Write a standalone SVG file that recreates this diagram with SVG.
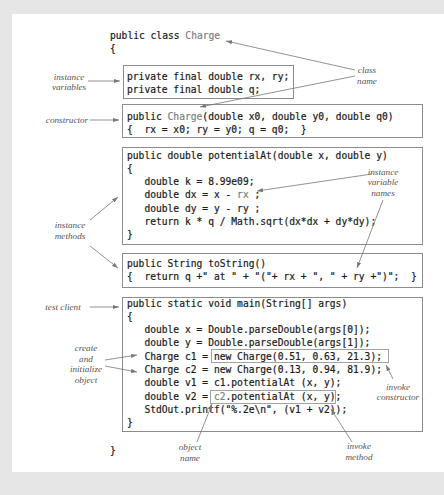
<svg xmlns="http://www.w3.org/2000/svg" width="444" height="495" viewBox="0 0 444 495">
<style>
.code{font-family:"DejaVu Sans Mono","Liberation Mono",monospace;font-size:9.65px;fill:#1a1a1a;stroke:#1a1a1a;stroke-width:0.2px;white-space:pre}
.g{fill:#808080;stroke:#808080}
.lbl{font-family:"Liberation Serif","DejaVu Serif",serif;font-style:italic;font-size:9.2px;fill:#555;text-anchor:middle}
.box{fill:#fff;stroke:#8c8c8c;stroke-width:1}
.ibox{fill:none;stroke:#999;stroke-width:0.9}
.conn{stroke:#777;stroke-width:0.8;fill:none;marker-end:url(#ah)}
</style>
<defs>
<marker id="ah" viewBox="0 0 10 10" refX="10" refY="5" markerWidth="6" markerHeight="6" orient="auto" markerUnits="userSpaceOnUse"><path d="M0,1.5 L10,5 L0,8.5 z" fill="#777"/></marker>
</defs>
<rect x="0" y="0" width="444" height="495" fill="#e6e6e6"/>
<rect x="12" y="14" width="432" height="458" fill="#fff"/>

<g id="class-header" xml:space="preserve">
<text class="code" x="110" y="38.5">public class <tspan class="g">Charge</tspan></text>
<text class="code" x="110" y="52">{</text>
<text class="code" x="110" y="454">}</text>
</g>

<g id="instance-variables" xml:space="preserve">
<rect class="box" x="123.5" y="65.5" width="170" height="33"/>
<text class="code" x="127" y="80">private final double rx, ry;</text>
<text class="code" x="127" y="93.3">private final double q;</text>
</g>

<g id="constructor" xml:space="preserve">
<rect class="box" x="122.5" y="104.5" width="300" height="33"/>
<text class="code" x="127" y="119.5">public <tspan class="g">Charge</tspan>(double x0, double y0, double q0)</text>
<text class="code" x="127" y="132.8">{  rx = x0; ry = y0; q = q0;  }</text>
</g>

<g id="potentialAt" xml:space="preserve">
<rect class="box" x="122.5" y="147.5" width="300" height="97"/>
<text class="code" x="127" y="158.5">public double potentialAt(double x, double y)</text>
<text class="code" x="127" y="171.8">{</text>
<text class="code" x="127" y="185.1">   double k = 8.99e09;</text>
<text class="code" x="127" y="198.4">   double dx = x - <tspan class="g">rx</tspan> ;</text>
<text class="code" x="127" y="211.7">   double dy = y - ry ;</text>
<text class="code" x="127" y="225">   return k * q / Math.sqrt(dx*dx + dy*dy);</text>
<text class="code" x="127" y="238.3">}</text>
</g>

<g id="toString" xml:space="preserve">
<rect class="box" x="122.5" y="253.5" width="300" height="34"/>
<text class="code" x="127" y="266.5">public String toString()</text>
<text class="code" x="127" y="279.8">{  return q +" at " + "("+ rx + ", " + ry +")";  }</text>
</g>

<g id="main" xml:space="preserve">
<rect class="box" x="122.5" y="297.5" width="300" height="134"/>
<rect class="ibox" x="211.5" y="349.5" width="177" height="13"/>
<rect class="ibox" x="210.5" y="390.5" width="125" height="13"/>
<text class="code" x="127" y="306.5">public static void main(String[] args)</text>
<text class="code" x="127" y="319.8">{</text>
<text class="code" x="127" y="333.1">   double x = Double.parseDouble(args[0]);</text>
<text class="code" x="127" y="346.4">   double y = Double.parseDouble(args[1]);</text>
<text class="code" x="127" y="359.7">   Charge c1 = new Charge(0.51, 0.63, 21.3);</text>
<text class="code" x="127" y="373">   Charge c2 = new Charge(0.13, 0.94, 81.9);</text>
<text class="code" x="127" y="386.3">   double v1 = c1.potentialAt (x, y);</text>
<text class="code" x="127" y="399.6">   double v2 = <tspan class="g">c2</tspan>.potentialAt (x, y);</text>
<text class="code" x="127" y="412.9">   StdOut.printf("%.2e\n", (v1 + v2));</text>
<text class="code" x="127" y="426.2">}</text>
</g>

<g id="label-class-name"><text class="lbl" x="367" y="73">class</text><text class="lbl" x="367" y="83.5">name</text></g>
<g id="label-instance-variables"><text class="lbl" x="69" y="79.5">instance</text><text class="lbl" x="69" y="90">variables</text></g>
<g id="label-constructor"><text class="lbl" x="67" y="123">constructor</text></g>
<g id="label-instance-methods"><text class="lbl" x="70" y="228">instance</text><text class="lbl" x="70" y="238.5">methods</text></g>
<g id="label-instance-variable-names"><text class="lbl" x="383" y="174.5">instance</text><text class="lbl" x="383" y="185">variable</text><text class="lbl" x="383" y="195.5">names</text></g>
<g id="label-test-client"><text class="lbl" x="63" y="310">test client</text></g>
<g id="label-create"><text class="lbl" x="86" y="351">create</text><text class="lbl" x="86" y="361.5">and</text><text class="lbl" x="86" y="372">initialize</text><text class="lbl" x="86" y="382.5">object</text></g>
<g id="label-invoke-constructor"><text class="lbl" x="398" y="389.5">invoke</text><text class="lbl" x="398" y="400">constructor</text></g>
<g id="label-object-name"><text class="lbl" x="190" y="450">object</text><text class="lbl" x="190" y="460.5">name</text></g>
<g id="label-invoke-method"><text class="lbl" x="359" y="449">invoke</text><text class="lbl" x="359" y="459.5">method</text></g>

<g id="connectors">
<line class="conn" x1="355" y1="70" x2="226" y2="41"/>
<line class="conn" x1="355" y1="76" x2="200" y2="107"/>
<line class="conn" x1="88" y1="81" x2="120" y2="81"/>
<line class="conn" x1="90" y1="120" x2="119" y2="120"/>
<line class="conn" x1="90" y1="220" x2="118" y2="197"/>
<line class="conn" x1="90" y1="246" x2="118" y2="268"/>
<line class="conn" x1="372" y1="174" x2="257" y2="191"/>
<line class="conn" x1="383" y1="200" x2="357" y2="268"/>
<line class="conn" x1="90" y1="307" x2="119" y2="307"/>
<line class="conn" x1="105" y1="360" x2="137" y2="355"/>
<line class="conn" x1="105" y1="366" x2="137" y2="372"/>
<line class="conn" x1="393" y1="379" x2="386" y2="365"/>
<line class="conn" x1="197" y1="442" x2="212" y2="404"/>
<line class="conn" x1="352" y1="442" x2="331" y2="409"/>
</g>
</svg>
